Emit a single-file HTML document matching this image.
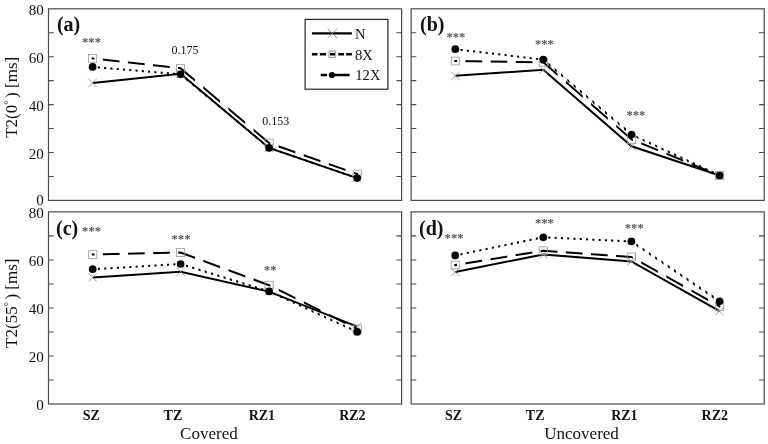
<!DOCTYPE html>
<html lang="en"><head><meta charset="utf-8"><title>T2 relaxation chart</title>
<style>html,body{margin:0;padding:0;background:#fff}body{width:768px;height:444px;overflow:hidden}svg{display:block}</style>
</head><body>
<svg width="768" height="444" viewBox="0 0 768 444">
<rect width="768" height="444" fill="#fff"/>
<g id="panel-a">
<rect x="48.5" y="8.8" width="353.1" height="191.6" fill="none" stroke="#4a4a4a" stroke-width="1.2"/>
<path d="M48.5 176.45h5.2M401.6 176.45h-5.2M48.5 152.5h5.2M401.6 152.5h-5.2M48.5 128.55h5.2M401.6 128.55h-5.2M48.5 104.6h5.2M401.6 104.6h-5.2M48.5 80.65h5.2M401.6 80.65h-5.2M48.5 56.7h5.2M401.6 56.7h-5.2M48.5 32.75h5.2M401.6 32.75h-5.2" stroke="#4a4a4a" stroke-width="1.1" fill="none"/>
<polyline points="92.6,82.9 180.5,73.8 269.1,147.9 357.2,178.1" fill="none" stroke="#000" stroke-width="2"/>
<path d="M88.35 78.65l8.5 8.5M88.35 87.15l8.5 -8.5M176.25 69.55l8.5 8.5M176.25 78.05l8.5 -8.5M264.85 143.65l8.5 8.5M264.85 152.15l8.5 -8.5M352.95 173.85l8.5 8.5M352.95 182.35l8.5 -8.5" stroke="#949494" stroke-width="0.85" fill="none"/>
<clipPath id="cd-a"><path d="M91.4 8.8H94.4V200.4H91.4ZM102.77 8.8H119.52V200.4H102.77ZM127.89 8.8H144.64V200.4H127.89ZM153.01 8.8H169.76V200.4H153.01ZM178.13 8.8H194.88V200.4H178.13ZM203.25 8.8H220V200.4H203.25ZM228.37 8.8H245.12V200.4H228.37ZM253.49 8.8H270.24V200.4H253.49ZM278.61 8.8H295.36V200.4H278.61ZM303.73 8.8H320.48V200.4H303.73ZM328.85 8.8H345.6V200.4H328.85ZM353.97 8.8H358.2V200.4H353.97Z"/></clipPath>
<polyline points="92.6,58.4 180.5,68.3 269.1,143 357.2,174" fill="none" stroke="#000" stroke-width="2" stroke-linecap="square" clip-path="url(#cd-a)"/>
<rect x="88.5" y="54.5" width="8.2" height="7.8" fill="none" stroke="#999" stroke-width="0.8"/>
<rect x="176.4" y="64.4" width="8.2" height="7.8" fill="none" stroke="#999" stroke-width="0.8"/>
<rect x="265" y="139.1" width="8.2" height="7.8" fill="none" stroke="#999" stroke-width="0.8"/>
<rect x="353.1" y="170.1" width="8.2" height="7.8" fill="none" stroke="#999" stroke-width="0.8"/>
<clipPath id="ct-a"><path d="M91.55 8.8h2.1V200.4h-2.1ZM97.83 8.8h2.1V200.4h-2.1ZM104.11 8.8h2.1V200.4h-2.1ZM110.39 8.8h2.1V200.4h-2.1ZM116.67 8.8h2.1V200.4h-2.1ZM122.95 8.8h2.1V200.4h-2.1ZM129.23 8.8h2.1V200.4h-2.1ZM135.51 8.8h2.1V200.4h-2.1ZM141.79 8.8h2.1V200.4h-2.1ZM148.07 8.8h2.1V200.4h-2.1ZM154.35 8.8h2.1V200.4h-2.1ZM160.63 8.8h2.1V200.4h-2.1ZM166.91 8.8h2.1V200.4h-2.1ZM173.19 8.8h2.1V200.4h-2.1ZM179.47 8.8h2.1V200.4h-2.1ZM185.75 8.8h2.1V200.4h-2.1ZM192.03 8.8h2.1V200.4h-2.1ZM198.31 8.8h2.1V200.4h-2.1ZM204.59 8.8h2.1V200.4h-2.1ZM210.87 8.8h2.1V200.4h-2.1ZM217.15 8.8h2.1V200.4h-2.1ZM223.43 8.8h2.1V200.4h-2.1ZM229.71 8.8h2.1V200.4h-2.1ZM235.99 8.8h2.1V200.4h-2.1ZM242.27 8.8h2.1V200.4h-2.1ZM248.55 8.8h2.1V200.4h-2.1ZM254.83 8.8h2.1V200.4h-2.1ZM261.11 8.8h2.1V200.4h-2.1ZM267.39 8.8h2.1V200.4h-2.1ZM273.67 8.8h2.1V200.4h-2.1ZM279.95 8.8h2.1V200.4h-2.1ZM286.23 8.8h2.1V200.4h-2.1ZM292.51 8.8h2.1V200.4h-2.1ZM298.79 8.8h2.1V200.4h-2.1ZM305.07 8.8h2.1V200.4h-2.1ZM311.35 8.8h2.1V200.4h-2.1ZM317.63 8.8h2.1V200.4h-2.1ZM323.91 8.8h2.1V200.4h-2.1ZM330.19 8.8h2.1V200.4h-2.1ZM336.47 8.8h2.1V200.4h-2.1ZM342.75 8.8h2.1V200.4h-2.1ZM349.03 8.8h2.1V200.4h-2.1ZM355.31 8.8h2.1V200.4h-2.1Z"/></clipPath>
<polyline points="92.6,66.9 180.5,74.3 269.1,147.9 357.2,178.1" fill="none" stroke="#000" stroke-width="2" clip-path="url(#ct-a)"/>
<circle cx="92.6" cy="66.9" r="3.85" fill="#000"/>
<circle cx="180.5" cy="74.3" r="3.85" fill="#000"/>
<circle cx="269.1" cy="147.9" r="3.85" fill="#000"/>
<circle cx="357.2" cy="178.1" r="3.85" fill="#000"/>
</g>
<g id="panel-b">
<rect x="411.1" y="8.8" width="353.1" height="191.6" fill="none" stroke="#4a4a4a" stroke-width="1.2"/>
<path d="M411.1 176.45h5.2M764.2 176.45h-5.2M411.1 152.5h5.2M764.2 152.5h-5.2M411.1 128.55h5.2M764.2 128.55h-5.2M411.1 104.6h5.2M764.2 104.6h-5.2M411.1 80.65h5.2M764.2 80.65h-5.2M411.1 56.7h5.2M764.2 56.7h-5.2M411.1 32.75h5.2M764.2 32.75h-5.2" stroke="#4a4a4a" stroke-width="1.1" fill="none"/>
<polyline points="455.3,75.8 543.3,69.8 631.6,146.3 719.6,175.5" fill="none" stroke="#000" stroke-width="2"/>
<path d="M451.05 71.55l8.5 8.5M451.05 80.05l8.5 -8.5M539.05 65.55l8.5 8.5M539.05 74.05l8.5 -8.5M627.35 142.05l8.5 8.5M627.35 150.55l8.5 -8.5M715.35 171.25l8.5 8.5M715.35 179.75l8.5 -8.5" stroke="#949494" stroke-width="0.85" fill="none"/>
<clipPath id="cd-b"><path d="M454.1 8.8H457.1V200.4H454.1ZM465.47 8.8H482.22V200.4H465.47ZM490.59 8.8H507.34V200.4H490.59ZM515.71 8.8H532.46V200.4H515.71ZM540.83 8.8H557.58V200.4H540.83ZM565.95 8.8H582.7V200.4H565.95ZM591.07 8.8H607.82V200.4H591.07ZM616.19 8.8H632.94V200.4H616.19ZM641.31 8.8H658.06V200.4H641.31ZM666.43 8.8H683.18V200.4H666.43ZM691.55 8.8H708.3V200.4H691.55ZM716.67 8.8H720.6V200.4H716.67Z"/></clipPath>
<polyline points="455.3,61 543.3,62.3 631.6,139.5 719.6,175.5" fill="none" stroke="#000" stroke-width="2" stroke-linecap="square" clip-path="url(#cd-b)"/>
<rect x="451.2" y="57.1" width="8.2" height="7.8" fill="none" stroke="#999" stroke-width="0.8"/>
<rect x="539.2" y="58.4" width="8.2" height="7.8" fill="none" stroke="#999" stroke-width="0.8"/>
<rect x="627.5" y="135.6" width="8.2" height="7.8" fill="none" stroke="#999" stroke-width="0.8"/>
<rect x="715.5" y="171.6" width="8.2" height="7.8" fill="none" stroke="#999" stroke-width="0.8"/>
<clipPath id="ct-b"><path d="M454.25 8.8h2.1V200.4h-2.1ZM460.53 8.8h2.1V200.4h-2.1ZM466.81 8.8h2.1V200.4h-2.1ZM473.09 8.8h2.1V200.4h-2.1ZM479.37 8.8h2.1V200.4h-2.1ZM485.65 8.8h2.1V200.4h-2.1ZM491.93 8.8h2.1V200.4h-2.1ZM498.21 8.8h2.1V200.4h-2.1ZM504.49 8.8h2.1V200.4h-2.1ZM510.77 8.8h2.1V200.4h-2.1ZM517.05 8.8h2.1V200.4h-2.1ZM523.33 8.8h2.1V200.4h-2.1ZM529.61 8.8h2.1V200.4h-2.1ZM535.89 8.8h2.1V200.4h-2.1ZM542.17 8.8h2.1V200.4h-2.1ZM548.45 8.8h2.1V200.4h-2.1ZM554.73 8.8h2.1V200.4h-2.1ZM561.01 8.8h2.1V200.4h-2.1ZM567.29 8.8h2.1V200.4h-2.1ZM573.57 8.8h2.1V200.4h-2.1ZM579.85 8.8h2.1V200.4h-2.1ZM586.13 8.8h2.1V200.4h-2.1ZM592.41 8.8h2.1V200.4h-2.1ZM598.69 8.8h2.1V200.4h-2.1ZM604.97 8.8h2.1V200.4h-2.1ZM611.25 8.8h2.1V200.4h-2.1ZM617.53 8.8h2.1V200.4h-2.1ZM623.81 8.8h2.1V200.4h-2.1ZM630.09 8.8h2.1V200.4h-2.1ZM636.37 8.8h2.1V200.4h-2.1ZM642.65 8.8h2.1V200.4h-2.1ZM648.93 8.8h2.1V200.4h-2.1ZM655.21 8.8h2.1V200.4h-2.1ZM661.49 8.8h2.1V200.4h-2.1ZM667.77 8.8h2.1V200.4h-2.1ZM674.05 8.8h2.1V200.4h-2.1ZM680.33 8.8h2.1V200.4h-2.1ZM686.61 8.8h2.1V200.4h-2.1ZM692.89 8.8h2.1V200.4h-2.1ZM699.17 8.8h2.1V200.4h-2.1ZM705.45 8.8h2.1V200.4h-2.1ZM711.73 8.8h2.1V200.4h-2.1ZM718.01 8.8h2.1V200.4h-2.1Z"/></clipPath>
<polyline points="455.3,49.2 543.3,59.6 631.6,134.6 719.6,175.5" fill="none" stroke="#000" stroke-width="2" clip-path="url(#ct-b)"/>
<circle cx="455.3" cy="49.2" r="3.85" fill="#000"/>
<circle cx="543.3" cy="59.6" r="3.85" fill="#000"/>
<circle cx="631.6" cy="134.6" r="3.85" fill="#000"/>
<circle cx="719.6" cy="175.5" r="3.85" fill="#000"/>
</g>
<g id="panel-c">
<rect x="48.5" y="211.9" width="353.1" height="192.1" fill="none" stroke="#4a4a4a" stroke-width="1.2"/>
<path d="M48.5 379.99h5.2M401.6 379.99h-5.2M48.5 355.98h5.2M401.6 355.98h-5.2M48.5 331.96h5.2M401.6 331.96h-5.2M48.5 307.95h5.2M401.6 307.95h-5.2M48.5 283.94h5.2M401.6 283.94h-5.2M48.5 259.93h5.2M401.6 259.93h-5.2M48.5 235.91h5.2M401.6 235.91h-5.2" stroke="#4a4a4a" stroke-width="1.1" fill="none"/>
<polyline points="92.7,277.5 180.6,271.7 269.1,291.6 357.2,326.6" fill="none" stroke="#000" stroke-width="2"/>
<path d="M88.45 273.25l8.5 8.5M88.45 281.75l8.5 -8.5M176.35 267.45l8.5 8.5M176.35 275.95l8.5 -8.5M264.85 287.35l8.5 8.5M264.85 295.85l8.5 -8.5M352.95 322.35l8.5 8.5M352.95 330.85l8.5 -8.5" stroke="#949494" stroke-width="0.85" fill="none"/>
<clipPath id="cd-c"><path d="M91.5 211.9H94.5V404H91.5ZM102.87 211.9H119.62V404H102.87ZM127.99 211.9H144.74V404H127.99ZM153.11 211.9H169.86V404H153.11ZM178.23 211.9H194.98V404H178.23ZM203.35 211.9H220.1V404H203.35ZM228.47 211.9H245.22V404H228.47ZM253.59 211.9H270.34V404H253.59ZM278.71 211.9H295.46V404H278.71ZM303.83 211.9H320.58V404H303.83ZM328.95 211.9H345.7V404H328.95ZM354.07 211.9H358.2V404H354.07Z"/></clipPath>
<polyline points="92.7,254.6 180.6,252.5 269.1,285.2 357.2,329" fill="none" stroke="#000" stroke-width="2" stroke-linecap="square" clip-path="url(#cd-c)"/>
<rect x="88.6" y="250.7" width="8.2" height="7.8" fill="none" stroke="#999" stroke-width="0.8"/>
<rect x="176.5" y="248.6" width="8.2" height="7.8" fill="none" stroke="#999" stroke-width="0.8"/>
<rect x="265" y="281.3" width="8.2" height="7.8" fill="none" stroke="#999" stroke-width="0.8"/>
<rect x="353.1" y="325.1" width="8.2" height="7.8" fill="none" stroke="#999" stroke-width="0.8"/>
<clipPath id="ct-c"><path d="M91.65 211.9h2.1V404h-2.1ZM97.93 211.9h2.1V404h-2.1ZM104.21 211.9h2.1V404h-2.1ZM110.49 211.9h2.1V404h-2.1ZM116.77 211.9h2.1V404h-2.1ZM123.05 211.9h2.1V404h-2.1ZM129.33 211.9h2.1V404h-2.1ZM135.61 211.9h2.1V404h-2.1ZM141.89 211.9h2.1V404h-2.1ZM148.17 211.9h2.1V404h-2.1ZM154.45 211.9h2.1V404h-2.1ZM160.73 211.9h2.1V404h-2.1ZM167.01 211.9h2.1V404h-2.1ZM173.29 211.9h2.1V404h-2.1ZM179.57 211.9h2.1V404h-2.1ZM185.85 211.9h2.1V404h-2.1ZM192.13 211.9h2.1V404h-2.1ZM198.41 211.9h2.1V404h-2.1ZM204.69 211.9h2.1V404h-2.1ZM210.97 211.9h2.1V404h-2.1ZM217.25 211.9h2.1V404h-2.1ZM223.53 211.9h2.1V404h-2.1ZM229.81 211.9h2.1V404h-2.1ZM236.09 211.9h2.1V404h-2.1ZM242.37 211.9h2.1V404h-2.1ZM248.65 211.9h2.1V404h-2.1ZM254.93 211.9h2.1V404h-2.1ZM261.21 211.9h2.1V404h-2.1ZM267.49 211.9h2.1V404h-2.1ZM273.77 211.9h2.1V404h-2.1ZM280.05 211.9h2.1V404h-2.1ZM286.33 211.9h2.1V404h-2.1ZM292.61 211.9h2.1V404h-2.1ZM298.89 211.9h2.1V404h-2.1ZM305.17 211.9h2.1V404h-2.1ZM311.45 211.9h2.1V404h-2.1ZM317.73 211.9h2.1V404h-2.1ZM324.01 211.9h2.1V404h-2.1ZM330.29 211.9h2.1V404h-2.1ZM336.57 211.9h2.1V404h-2.1ZM342.85 211.9h2.1V404h-2.1ZM349.13 211.9h2.1V404h-2.1ZM355.41 211.9h2.1V404h-2.1Z"/></clipPath>
<polyline points="92.7,269.2 180.6,264 269.1,291.4 357.2,331.9" fill="none" stroke="#000" stroke-width="2" clip-path="url(#ct-c)"/>
<circle cx="92.7" cy="269.2" r="3.85" fill="#000"/>
<circle cx="180.6" cy="264" r="3.85" fill="#000"/>
<circle cx="269.1" cy="291.4" r="3.85" fill="#000"/>
<circle cx="357.2" cy="331.9" r="3.85" fill="#000"/>
</g>
<g id="panel-d">
<rect x="411.1" y="211.9" width="353.1" height="192.1" fill="none" stroke="#4a4a4a" stroke-width="1.2"/>
<path d="M411.1 379.99h5.2M764.2 379.99h-5.2M411.1 355.98h5.2M764.2 355.98h-5.2M411.1 331.96h5.2M764.2 331.96h-5.2M411.1 307.95h5.2M764.2 307.95h-5.2M411.1 283.94h5.2M764.2 283.94h-5.2M411.1 259.93h5.2M764.2 259.93h-5.2M411.1 235.91h5.2M764.2 235.91h-5.2" stroke="#4a4a4a" stroke-width="1.1" fill="none"/>
<polyline points="455.2,272.1 543.3,254.4 631.4,261.5 719.6,311.2" fill="none" stroke="#000" stroke-width="2"/>
<path d="M450.95 267.85l8.5 8.5M450.95 276.35l8.5 -8.5M539.05 250.15l8.5 8.5M539.05 258.65l8.5 -8.5M627.15 257.25l8.5 8.5M627.15 265.75l8.5 -8.5M715.35 306.95l8.5 8.5M715.35 315.45l8.5 -8.5" stroke="#949494" stroke-width="0.85" fill="none"/>
<clipPath id="cd-d"><path d="M454 211.9H457V404H454ZM465.37 211.9H482.12V404H465.37ZM490.49 211.9H507.24V404H490.49ZM515.61 211.9H532.36V404H515.61ZM540.73 211.9H557.48V404H540.73ZM565.85 211.9H582.6V404H565.85ZM590.97 211.9H607.72V404H590.97ZM616.09 211.9H632.84V404H616.09ZM641.21 211.9H657.96V404H641.21ZM666.33 211.9H683.08V404H666.33ZM691.45 211.9H708.2V404H691.45ZM716.57 211.9H720.6V404H716.57Z"/></clipPath>
<polyline points="455.2,265 543.3,250.8 631.4,257 719.6,306.4" fill="none" stroke="#000" stroke-width="2" stroke-linecap="square" clip-path="url(#cd-d)"/>
<rect x="451.1" y="261.1" width="8.2" height="7.8" fill="none" stroke="#999" stroke-width="0.8"/>
<rect x="539.2" y="246.9" width="8.2" height="7.8" fill="none" stroke="#999" stroke-width="0.8"/>
<rect x="627.3" y="253.1" width="8.2" height="7.8" fill="none" stroke="#999" stroke-width="0.8"/>
<rect x="715.5" y="302.5" width="8.2" height="7.8" fill="none" stroke="#999" stroke-width="0.8"/>
<clipPath id="ct-d"><path d="M454.15 211.9h2.1V404h-2.1ZM460.43 211.9h2.1V404h-2.1ZM466.71 211.9h2.1V404h-2.1ZM472.99 211.9h2.1V404h-2.1ZM479.27 211.9h2.1V404h-2.1ZM485.55 211.9h2.1V404h-2.1ZM491.83 211.9h2.1V404h-2.1ZM498.11 211.9h2.1V404h-2.1ZM504.39 211.9h2.1V404h-2.1ZM510.67 211.9h2.1V404h-2.1ZM516.95 211.9h2.1V404h-2.1ZM523.23 211.9h2.1V404h-2.1ZM529.51 211.9h2.1V404h-2.1ZM535.79 211.9h2.1V404h-2.1ZM542.07 211.9h2.1V404h-2.1ZM548.35 211.9h2.1V404h-2.1ZM554.63 211.9h2.1V404h-2.1ZM560.91 211.9h2.1V404h-2.1ZM567.19 211.9h2.1V404h-2.1ZM573.47 211.9h2.1V404h-2.1ZM579.75 211.9h2.1V404h-2.1ZM586.03 211.9h2.1V404h-2.1ZM592.31 211.9h2.1V404h-2.1ZM598.59 211.9h2.1V404h-2.1ZM604.87 211.9h2.1V404h-2.1ZM611.15 211.9h2.1V404h-2.1ZM617.43 211.9h2.1V404h-2.1ZM623.71 211.9h2.1V404h-2.1ZM629.99 211.9h2.1V404h-2.1ZM636.27 211.9h2.1V404h-2.1ZM642.55 211.9h2.1V404h-2.1ZM648.83 211.9h2.1V404h-2.1ZM655.11 211.9h2.1V404h-2.1ZM661.39 211.9h2.1V404h-2.1ZM667.67 211.9h2.1V404h-2.1ZM673.95 211.9h2.1V404h-2.1ZM680.23 211.9h2.1V404h-2.1ZM686.51 211.9h2.1V404h-2.1ZM692.79 211.9h2.1V404h-2.1ZM699.07 211.9h2.1V404h-2.1ZM705.35 211.9h2.1V404h-2.1ZM711.63 211.9h2.1V404h-2.1ZM717.91 211.9h2.1V404h-2.1Z"/></clipPath>
<polyline points="455.2,255.4 543.3,237.3 631.4,241.4 719.6,301.3" fill="none" stroke="#000" stroke-width="2" clip-path="url(#ct-d)"/>
<circle cx="455.2" cy="255.4" r="3.85" fill="#000"/>
<circle cx="543.3" cy="237.3" r="3.85" fill="#000"/>
<circle cx="631.4" cy="241.4" r="3.85" fill="#000"/>
<circle cx="719.6" cy="301.3" r="3.85" fill="#000"/>
</g>
<g font-family="'Liberation Serif', 'Times New Roman', serif" fill="#111">
<g font-size="15.1px" text-anchor="end">
<text x="43.8" y="14.9">80</text>
<text x="43.8" y="62.8">60</text>
<text x="43.8" y="110.7">40</text>
<text x="43.8" y="158.6">20</text>
<text x="43.8" y="204.6">0</text>
<text x="43.8" y="218">80</text>
<text x="43.8" y="266.03">60</text>
<text x="43.8" y="314.05">40</text>
<text x="43.8" y="362.08">20</text>
<text x="43.8" y="410.1">0</text>
</g>
<g font-size="17px" text-anchor="middle">
<text transform="translate(16.7 97.3) rotate(-90)">T2(0<tspan font-size="11px" dy="-5">°</tspan><tspan dy="5" dx="2.4">)</tspan> [ms]</text>
<text transform="translate(17.2 303.2) rotate(-90)">T2(55<tspan font-size="11px" dy="-5">°</tspan><tspan dy="5" dx="2.4">)</tspan> [ms]</text>
<text x="208.9" y="438.9">Covered</text>
<text x="581.6" y="438.9">Uncovered</text>
</g>
<g font-size="14px" font-weight="bold" text-anchor="middle">
<text x="91.2" y="419.9">SZ</text>
<text x="172.9" y="419.9">TZ</text>
<text x="261.9" y="419.9">RZ1</text>
<text x="352.4" y="419.9">RZ2</text>
<text x="453.5" y="419.9">SZ</text>
<text x="535.2" y="419.9">TZ</text>
<text x="624.4" y="419.9">RZ1</text>
<text x="714.8" y="419.9">RZ2</text>
</g>
<g font-size="20px" font-weight="bold">
<text x="56.9" y="30.5">(a)</text>
<text x="420.0" y="30.5">(b)</text>
<text x="56.0" y="234.8">(c)</text>
<text x="419.0" y="234.8">(d)</text>
</g>
<g font-size="12.6px" font-weight="bold" fill="#555" text-anchor="middle">
<text x="91.5" y="45.9">***</text>
<text x="455.85" y="40.9">***</text>
<text x="544.4" y="47.8">***</text>
<text x="635.9" y="119.4">***</text>
<text x="91.55" y="235.3">***</text>
<text x="181" y="243.2">***</text>
<text x="270.35" y="273.8">**</text>
<text x="454.05" y="241.7">***</text>
<text x="544.45" y="227.15">***</text>
<text x="634.25" y="232.4">***</text>
</g>
<g font-size="12px">
<text x="171.6" y="54.2">0.175</text>
<text x="262.2" y="125.3">0.153</text>
</g>
</g>
<g id="legend">
<rect x="305.1" y="19.4" width="82.8" height="69.8" fill="#fff" stroke="#262626" stroke-width="1.2"/>
<path d="M311.9 33.4H351.9" stroke="#000" stroke-width="2.3"/>
<path d="M327.6 28.6l9.6 9.6M327.6 38.2l9.6 -9.6" stroke="#8c8c8c" stroke-width="0.9" fill="none"/>
<path d="M311.9 54.3h5.6M319.8 54.3h6.2M330 54.3h5M338.3 54.3h5.7M346.2 54.3h5.7" stroke="#000" stroke-width="2.4"/>
<rect x="329" y="51" width="6.3" height="6.6" fill="none" stroke="#8c8c8c" stroke-width="0.9"/>
<path d="M320.7 75h6.4M334.4 75h15.2" stroke="#000" stroke-width="2.4"/>
<circle cx="331.9" cy="75" r="3.1" fill="#000"/>
<g font-family="'Liberation Serif', 'Times New Roman', serif" font-size="14.6px" fill="#111">
<text x="355" y="39.4">N</text><text x="355" y="59.9">8X</text><text x="355.3" y="80.4">12X</text>
</g></g>
</svg>
</body></html>
